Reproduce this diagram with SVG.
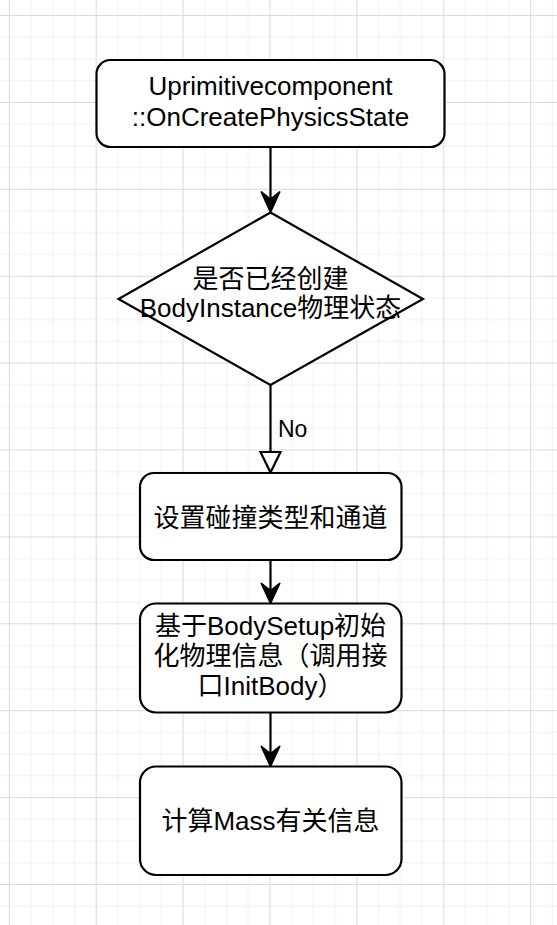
<svg xmlns="http://www.w3.org/2000/svg" width="557" height="925" viewBox="0 0 557 925">
  <style>
    .node { fill: #ffffff; stroke: #000000; stroke-width: 2.2; }
    .lbl { font-family: "Liberation Sans", "Noto Sans CJK SC", sans-serif; font-size: 26px; fill: #000000; text-anchor: middle; }
    .edge { fill: none; stroke: #000000; stroke-width: 2.2; }
    .edgelbl { font-family: "Liberation Sans", "Noto Sans CJK SC", sans-serif; font-size: 23px; fill: #000000; }
  </style>
  <defs>
    <pattern id="grid" patternUnits="userSpaceOnUse" x="8.8" y="15" width="86.9" height="86.9">
      <rect x="0" y="0" width="86.9" height="86.9" fill="#ffffff"/>
      <rect x="21.7" y="0" width="1" height="86.9" fill="#f1f1f1"/>
      <rect x="43.45" y="0" width="1" height="86.9" fill="#f1f1f1"/>
      <rect x="65.2" y="0" width="1" height="86.9" fill="#f1f1f1"/>
      <rect x="0" y="21.7" width="86.9" height="1" fill="#f1f1f1"/>
      <rect x="0" y="43.45" width="86.9" height="1" fill="#f1f1f1"/>
      <rect x="0" y="65.2" width="86.9" height="1" fill="#f1f1f1"/>
      <rect x="0" y="0" width="1" height="86.9" fill="#dadada"/>
      <rect x="0" y="0" width="86.9" height="1" fill="#dadada"/>
    </pattern>
  </defs>
  <rect x="0" y="0" width="557" height="925" fill="url(#grid)"/>

  <g id="connectors">
    <g id="edge1">
      <path class="edge" d="M270.5 147 L270.5 200"/>
      <path d="M270.5 212.5 L261 191.5 L270.5 199 L280 191.5 Z" fill="#000" stroke="#000" stroke-width="1.5" stroke-linejoin="miter"/>
    </g>
    <g id="edge2">
      <path class="edge" d="M270.5 385 L270.5 452"/>
      <path d="M270.5 472.5 L260.5 452 L280.5 452 Z" fill="#ffffff" stroke="#000" stroke-width="2.2"/>
      <text class="edgelbl" x="278" y="437">No</text>
    </g>
    <g id="edge3">
      <path class="edge" d="M270.5 560 L270.5 592"/>
      <path d="M270.5 603.5 L261 583 L270.5 590.5 L280 583 Z" fill="#000" stroke="#000" stroke-width="1.5"/>
    </g>
    <g id="edge4">
      <path class="edge" d="M270.5 712.5 L270.5 756"/>
      <path d="M270.5 766.5 L261 746 L270.5 753.5 L280 746 Z" fill="#000" stroke="#000" stroke-width="1.5"/>
    </g>
  </g>

  <g id="node-start">
    <rect class="node" x="96.5" y="60" width="348" height="87" rx="14" ry="14"/>
    <text class="lbl" x="270.5" y="95">Uprimitivecomponent</text>
    <text class="lbl" x="270.5" y="126">::OnCreatePhysicsState</text>
  </g>

  <g id="node-decision">
    <polygon class="node" points="270.5,212.5 423,299 270.5,385 118.5,299"/>
    <text class="lbl" x="270.5" y="288">是否已经创建</text>
    <text class="lbl" x="270.5" y="317">BodyInstance物理状态</text>
  </g>

  <g id="node-collision">
    <rect class="node" x="140" y="473" width="261.5" height="87" rx="14" ry="14"/>
    <text class="lbl" x="270.5" y="526.5">设置碰撞类型和通道</text>
  </g>

  <g id="node-initbody">
    <rect class="node" x="140" y="603.5" width="261.5" height="109" rx="16" ry="16"/>
    <text class="lbl" x="270.5" y="634.5">基于BodySetup初始</text>
    <text class="lbl" x="270.5" y="665">化物理信息（调用接</text>
    <text class="lbl" x="270.5" y="695">口InitBody）</text>
  </g>

  <g id="node-mass">
    <rect class="node" x="140" y="766.5" width="261.5" height="108.5" rx="16" ry="16"/>
    <text class="lbl" x="270.5" y="830">计算Mass有关信息</text>
  </g>
</svg>
